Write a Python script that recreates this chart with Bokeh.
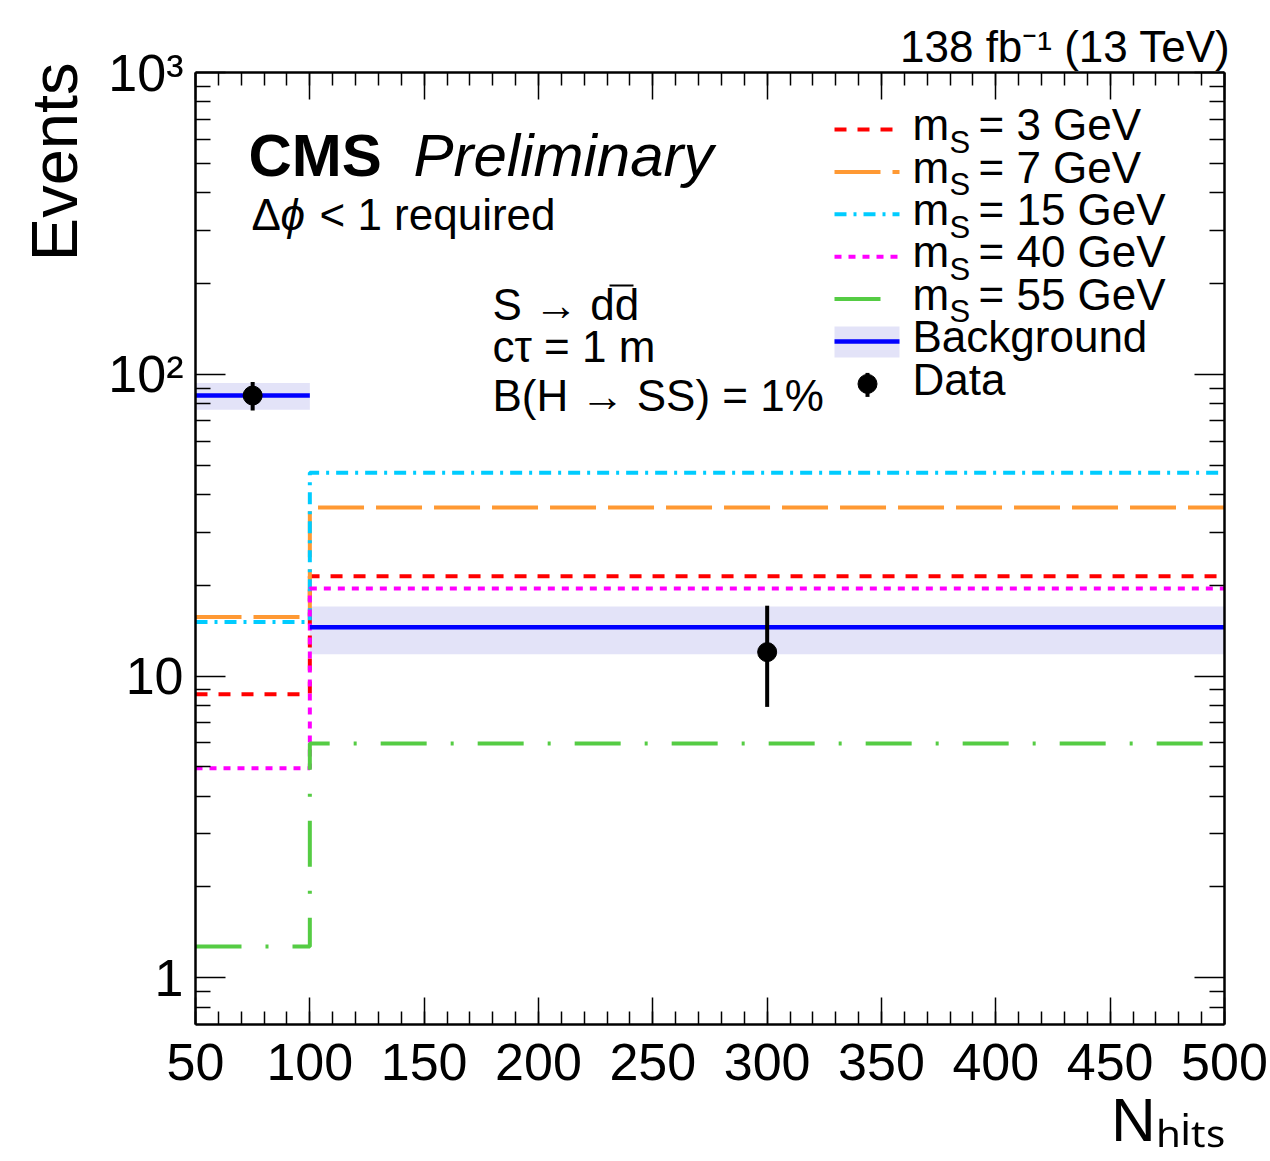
import math
from bokeh.plotting import figure
from bokeh.models import Range1d, LinearScale, LogAxis, LinearAxis, FixedTicker, Label, Title
from bokeh.embed import file_html
from bokeh.resources import INLINE

# ---------------- data ----------------
bin_edges = [50, 100, 500]
bin_centers = [75, 300]
bkg = [85.0, 14.5]
bkg_up = [93.6, 17.0]
bkg_dn = [76.2, 11.8]
data_vals = [85.0, 12.0]
data_up = [94.2, 17.1]
data_dn = [75.8, 7.9]
sig_m3 = [8.7, 21.4]
sig_m7 = [15.7, 36.2]
sig_m15 = [15.1, 47.2]
sig_m40 = [4.95, 19.5]
sig_m55 = [1.27, 5.97]
sig_masses = ["3", "7", "15", "40", "55"]
x_ticks = [50, 100, 150, 200, 250, 300, 350, 400, 450, 500]
y_ticks = [1, 10, 100, 1000]
y_tick_labels = ["1", "10", "10\u00b2", "10\u00b3"]

FONT = "Liberation Sans"

# frame geometry (pixels)
L, R, T, B = 195, 1224, 72, 1024
FW, FH = R - L, B - T

p = figure(frame_width=FW, frame_height=FH,
           x_range=Range1d(50, 500), y_range=Range1d(0.7, 1000),
           y_axis_type="log", output_backend="svg", toolbar_location=None,
           min_border_left=L, min_border_right=1270 - R,
           min_border_top=T, min_border_bottom=1161 - B)
p.extra_x_ranges = {"px": Range1d(0, FW)}
p.extra_y_ranges = {"py": Range1d(0, FH)}
p.extra_x_scales = {"px": LinearScale()}
p.extra_y_scales = {"py": LinearScale()}
p.xgrid.visible = False
p.ygrid.visible = False
p.outline_line_color = None
p.background_fill_color = "white"
p.border_fill_color = "white"

def fx(px):
    return px - L

def fy(py):
    return B - py

# tickers
x_minor = list(range(50, 501, 10))
y_minor = [0.8, 0.9] + [k * 10 ** e for e in range(0, 3) for k in range(2, 10)]
xt = FixedTicker(ticks=x_ticks, minor_ticks=x_minor)
yt = FixedTicker(ticks=y_ticks, minor_ticks=y_minor)

def style_axis(ax, major, minor, size="52px"):
    ax.axis_line_width = 2.5
    ax.axis_line_color = "black"
    ax.major_tick_in = major
    ax.major_tick_out = 0
    ax.minor_tick_in = minor
    ax.minor_tick_out = 0
    ax.major_tick_line_width = 1.5
    ax.minor_tick_line_width = 1.5
    ax.major_tick_line_color = "black"
    ax.minor_tick_line_color = "black"
    ax.major_label_text_font = FONT
    ax.major_label_text_font_size = size
    ax.major_label_text_color = "black"
    ax.axis_label = None

xa = p.xaxis[0]
xa.ticker = xt
style_axis(xa, 27, 13)
xa.major_label_standoff = 19

ya = p.yaxis[0]
ya.ticker = yt
style_axis(ya, 30, 15)
ya.major_label_overrides = {v: s for v, s in zip(y_ticks, y_tick_labels)}
ya.major_label_standoff = 12

top_ax = LinearAxis(ticker=xt)
style_axis(top_ax, 27, 13, "0px")
top_ax.major_label_overrides = {v: "" for v in x_ticks}
top_ax.major_label_standoff = 0
p.add_layout(top_ax, "above")

right_ax = LogAxis(ticker=yt)
style_axis(right_ax, 30, 15, "0px")
right_ax.major_label_overrides = {v: "" for v in y_ticks}
right_ax.major_label_standoff = 0
p.add_layout(right_ax, "right")

# outer texts as titles (side panels)
p.add_layout(Title(text="138 fb\u207b\u00b9 (13 TeV)", align="right", text_font=FONT,
                   text_font_size="44px", text_font_style="normal", text_color="black",
                   standoff=3, offset=-6), "above")
p.add_layout(Title(text="Events", align="right", text_font=FONT,
                   text_font_size="65px", text_font_style="normal", text_color="black",
                   standoff=30, offset=-10), "left")
p.add_layout(Title(text="N\u2095\u1d62\u209c\u209b", align="right", text_font=FONT,
                   text_font_size="62px", text_font_style="normal", text_color="black",
                   standoff=0), "below")

# ---------------- glyphs ----------------
BAND = "#e3e3f8"
p.quad(left=bin_edges[:-1], right=bin_edges[1:], bottom=bkg_dn, top=bkg_up,
       fill_color=BAND, line_color=None)

signals = [
    (sig_m3, "#ff0000", "12 11"),
    (sig_m7, "#ff9933", "46 12"),
    (sig_m15, "#00ccff", "12 7 3 7"),
    (sig_m40, "#ff00ff", "7 7"),
    (sig_m55, "#55cc44", "46 24 3 24"),
]
for vals, col, dash in signals:
    p.step(x=bin_edges, y=list(vals) + [vals[-1]], mode="after",
           line_color=col, line_dash=dash, line_width=4)

p.segment(x0=bin_edges[:-1], x1=bin_edges[1:], y0=bkg, y1=bkg,
          line_color="#0000ff", line_width=4.5)

p.segment(x0=bin_centers, x1=bin_centers, y0=data_dn, y1=data_up,
          line_color="black", line_width=4)
p.scatter(x=bin_centers, y=data_vals, size=19, color="black")

# ---------------- legend (drawn in frame pixel coords) ----------------
row0, pitch = 129, 42.4
rows = [row0 + pitch * i for i in range(7)]
for i, (vals, col, dash) in enumerate(signals):
    p.segment(x0=[fx(834)], x1=[fx(899)], y0=[fy(rows[i])], y1=[fy(rows[i])],
              line_color=col, line_dash=dash, line_width=4,
              x_range_name="px", y_range_name="py")
p.quad(left=[fx(834)], right=[fx(899)], top=[fy(rows[5] - 15)], bottom=[fy(rows[5] + 16)],
       fill_color=BAND, line_color=None, x_range_name="px", y_range_name="py")
p.segment(x0=[fx(834)], x1=[fx(899)], y0=[fy(rows[5])], y1=[fy(rows[5])],
          line_color="#0000ff", line_width=4.5, x_range_name="px", y_range_name="py")
p.segment(x0=[fx(867)], x1=[fx(867)], y0=[fy(rows[6] - 11)], y1=[fy(rows[6] + 13)],
          line_color="black", line_width=4, x_range_name="px", y_range_name="py")
p.scatter(x=[fx(867)], y=[fy(rows[6])], size=19, color="black",
          x_range_name="px", y_range_name="py")

def lab(text, px, py, size, style="normal", align="left"):
    # py is the wanted baseline; Label renders ~0.36 em lower, compensate
    p.add_layout(Label(x=fx(px), y=fy(py - 0.36 * size), x_range_name="px", y_range_name="py",
                       text=text, text_font=FONT, text_font_size=f"{size}px",
                       text_font_style=style, text_color="black", text_align=align,
                       text_baseline="alphabetic"))

for i, m in enumerate(sig_masses):
    base = rows[i] + 11
    lab("m", 912, base, 44)
    lab("S", 949, base + 13, 31)
    lab(f"= {m} GeV", 978, base, 44)
lab("Background", 912, rows[5] + 11, 44)
lab("Data", 912, rows[6] + 11, 44)

lab("CMS", 248, 177, 60, "bold")
lab("Preliminary", 413, 177, 60, "italic")
lab("\u0394", 251, 230, 44)
lab("\u03d5", 280, 230, 44, "italic")
lab("< 1 required", 319, 230, 44)
lab("S \u2192 dd", 492, 320, 44)
p.segment(x0=[fx(609)], x1=[fx(633)], y0=[fy(285)], y1=[fy(285)], line_color="black",
          line_width=2, x_range_name="px", y_range_name="py")
lab("c\u03c4 = 1 m", 492, 362, 44)
lab("B(H \u2192 SS) = 1%", 492, 411, 44)

open("out.html", "w").write(file_html(p, INLINE))
